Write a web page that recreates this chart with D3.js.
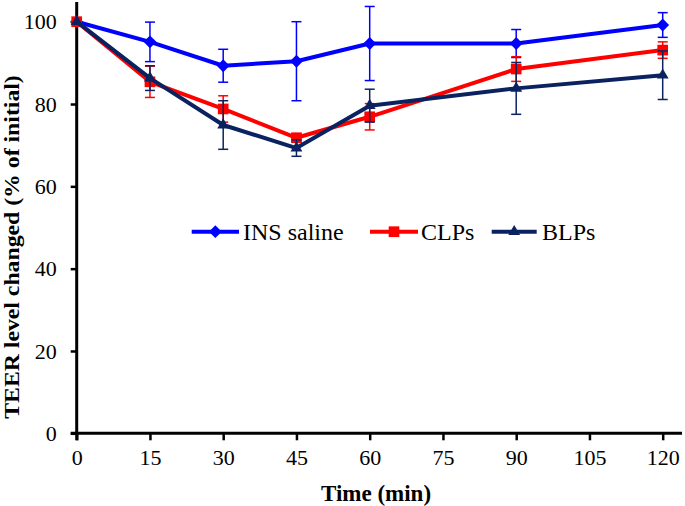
<!DOCTYPE html>
<html>
<head>
<meta charset="utf-8">
<script src="https://cdn.jsdelivr.net/npm/d3@7"></script>
<style>
  html, body { margin: 0; padding: 0; background: #fff; }
  svg { display: block; }
  text { font-family: "Liberation Serif", "Times New Roman", serif; }
</style>
</head>
<body>
<svg id="chart" width="685" height="506"></svg>
<script>
const times = [0, 15, 30, 45, 60, 90, 120];
const xTicks = [0, 15, 30, 45, 60, 75, 90, 105, 120];
const yTicks = [0, 20, 40, 60, 80, 100];

const insValues = [100, 95.1, 89.3, 90.4, 94.7, 94.7, 99.2];
const insErrors = [0, 4.8, 4.0, 9.6, 9.0, 3.4, 3.0];
const clpValues = [100, 85.4, 78.8, 71.8, 76.9, 88.5, 93.1];
const clpErrors = [0, 3.8, 3.2, 1.0, 3.2, 3.0, 2.0];
const blpValues = [100, 86.3, 74.9, 69.3, 79.6, 83.8, 87.0];
const blpErrors = [0, 3.0, 5.9, 2.0, 4.0, 6.3, 5.9];

const seriesNames = ["INS saline", "CLPs", "BLPs"];
const seriesColors = ["#0000ff", "#ff0000", "#0b2260"];
const seriesShapes = [d3.symbolDiamond2, d3.symbolSquare2, d3.symbolTriangle2];

const series = [
  { name: seriesNames[0], values: insValues, errors: insErrors, color: seriesColors[0], shape: seriesShapes[0], size: 105 },
  { name: seriesNames[1], values: clpValues, errors: clpErrors, color: seriesColors[1], shape: seriesShapes[1], size: 145 },
  { name: seriesNames[2], values: blpValues, errors: blpErrors, color: seriesColors[2], shape: seriesShapes[2], size: 100 }
];

const svg = d3.select("#chart");
const x = d3.scaleLinear().domain([0, 120]).range([76.7, 662.7]);
const y = d3.scaleLinear().domain([0, 100]).range([433.3, 21.7]);

// Axes
const xAxis = svg.append("g").attr("transform", `translate(0,${y(0)})`)
  .call(d3.axisBottom(x).tickValues(xTicks).tickSize(7).tickPadding(9).tickSizeOuter(0));
xAxis.select(".domain").remove();
xAxis.selectAll(".tick line").attr("stroke", "#000").attr("stroke-width", 2.5);
xAxis.selectAll(".tick text").attr("font-size", "22px").attr("fill", "#000")
  .attr("font-family", "Liberation Serif, serif");
svg.append("line").attr("x1", x(0) - 6).attr("x2", 682).attr("y1", y(0)).attr("y2", y(0))
  .attr("stroke", "#000").attr("stroke-width", 3);

const yAxis = svg.append("g").attr("transform", `translate(${x(0)},0)`)
  .call(d3.axisLeft(y).tickValues(yTicks).tickSize(6).tickPadding(14).tickSizeOuter(0));
yAxis.select(".domain").remove();
yAxis.selectAll(".tick line").attr("stroke", "#000").attr("stroke-width", 2.5);
yAxis.selectAll(".tick text").attr("font-size", "22px").attr("fill", "#000")
  .attr("font-family", "Liberation Serif, serif");
svg.append("line").attr("x1", x(0)).attr("x2", x(0)).attr("y1", 2).attr("y2", y(0) + 7)
  .attr("stroke", "#000").attr("stroke-width", 3);

// Axis titles
svg.append("text").attr("x", 376).attr("y", 501).attr("text-anchor", "middle")
  .attr("font-size", "23px").attr("font-weight", "bold").text("Time (min)");
svg.append("text").attr("transform", "translate(19,247) rotate(-90) scale(1.08,1)").attr("text-anchor", "middle")
  .attr("font-size", "22px").attr("font-weight", "bold").text("TEER level changed (% of initial)");

const line = d3.line().x((d, i) => x(times[i])).y(d => y(d));

series.forEach(s => {
  const g = svg.append("g");
  // error bars
  s.values.forEach((v, i) => {
    const e = s.errors[i];
    if (!e) return;
    const cx = x(times[i]);
    g.append("line").attr("x1", cx).attr("x2", cx).attr("y1", y(v + e)).attr("y2", y(v - e))
      .attr("stroke", s.color).attr("stroke-width", 1.5);
    [v + e, v - e].forEach(t => {
      g.append("line").attr("x1", cx - 5).attr("x2", cx + 5).attr("y1", y(t)).attr("y2", y(t))
        .attr("stroke", s.color).attr("stroke-width", 1.5);
    });
  });
  g.append("path").attr("d", line(s.values)).attr("fill", "none")
    .attr("stroke", s.color).attr("stroke-width", 4).attr("stroke-linejoin", "round");
  g.selectAll("path.m").data(s.values).enter().append("path").attr("class", "m")
    .attr("d", d3.symbol().type(s.shape).size(s.size))
    .attr("transform", (d, i) => `translate(${x(times[i])},${y(d)})`)
    .attr("fill", s.color);
});

// Legend
const legendItems = [
  { lx1: 191.7, lx2: 239, tx: 243 },
  { lx1: 370, lx2: 418, tx: 421 },
  { lx1: 491.7, lx2: 536.7, tx: 542 }
];
const ly = 231.7;
series.forEach((s, i) => {
  const it = legendItems[i];
  svg.append("line").attr("x1", it.lx1).attr("x2", it.lx2).attr("y1", ly).attr("y2", ly)
    .attr("stroke", s.color).attr("stroke-width", 4);
  svg.append("path").attr("d", d3.symbol().type(s.shape).size(s.size)())
    .attr("transform", `translate(${(it.lx1 + it.lx2) / 2},${ly})`).attr("fill", s.color);
  svg.append("text").attr("x", it.tx).attr("y", ly + 8).attr("font-size", "24px")
    .attr("fill", "#000").text(s.name);
});
</script>
</body>
</html>
